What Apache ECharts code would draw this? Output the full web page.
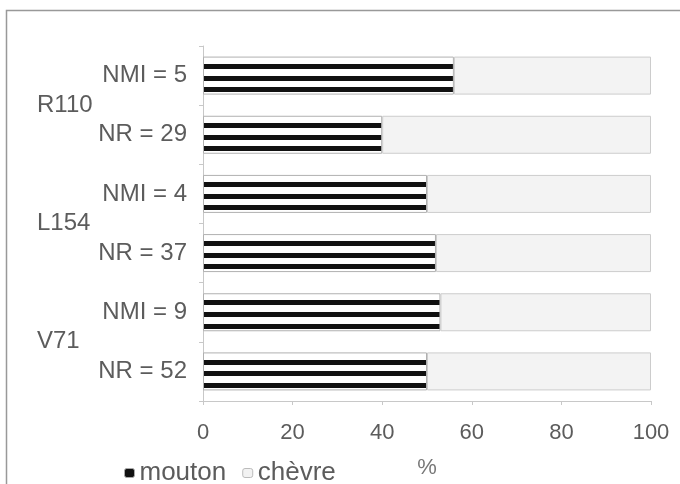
<!DOCTYPE html>
<html>
<head>
<meta charset="utf-8">
<script src="https://cdn.jsdelivr.net/npm/echarts@6/dist/echarts.min.js"></script>
<style>
html,body{margin:0;padding:0;background:#fff;}
#chart{width:680px;height:484px;}
</style>
</head>
<body>
<div id="chart"></div>
<script>
var categories = ['NMI = 5', 'NR = 29', 'NMI = 4', 'NR = 37', 'NMI = 9', 'NR = 52'];
var groups = ['R110', 'L154', 'V71'];
var mouton = [56, 40, 50, 52, 53, 50];
var chevre = [44, 60, 50, 48, 47, 50];
var xTicks = [0, 20, 40, 60, 80, 100];

var stripe = {
  type: 'linear', x: 0, y: 0, x2: 0, y2: 1,
  colorStops: [
    {offset: 0, color: '#ffffff'}, {offset: 0.19, color: '#ffffff'},
    {offset: 0.19, color: '#111111'}, {offset: 0.32, color: '#111111'},
    {offset: 0.32, color: '#ffffff'}, {offset: 0.50, color: '#ffffff'},
    {offset: 0.50, color: '#111111'}, {offset: 0.63, color: '#111111'},
    {offset: 0.63, color: '#ffffff'}, {offset: 0.80, color: '#ffffff'},
    {offset: 0.80, color: '#111111'}, {offset: 0.93, color: '#111111'},
    {offset: 0.93, color: '#ffffff'}, {offset: 1, color: '#ffffff'}
  ]
};

var chart = echarts.init(document.getElementById('chart'), null, {renderer: 'canvas'});
var font = 'Liberation Sans, Arial, sans-serif';
var txt = '#5c5c5c';
chart.setOption({
  animation: false,
  backgroundColor: '#ffffff',
  textStyle: {fontFamily: font},
  graphic: [{
    type: 'rect',
    shape: {x: 6.5, y: 10.5, width: 720, height: 520},
    style: {fill: 'none', stroke: '#999999', lineWidth: 1.5},
    silent: true
  }],
  grid: {left: 203, right: 29, top: 46, bottom: 82, containLabel: false},
  legend: {
    left: 119, top: 455,
    itemWidth: 10, itemHeight: 9, itemGap: 16,
    textStyle: {fontSize: 26, color: txt, fontFamily: font},
    data: [
      {name: 'mouton', itemStyle: {color: '#111111', borderColor: '#aaaaaa', borderWidth: 1}},
      {name: 'chèvre', itemStyle: {color: '#f2f2f2', borderColor: '#bbbbbb', borderWidth: 1}}
    ]
  },
  xAxis: {
    type: 'value', min: 0, max: 100, interval: 20,
    name: '%', nameLocation: 'middle', nameGap: 56,
    nameTextStyle: {fontSize: 22, color: '#777777', fontFamily: font},
    axisLine: {show: true, lineStyle: {color: '#c8c8c8', width: 1}},
    axisTick: {show: true, length: 4, lineStyle: {color: '#c8c8c8'}},
    splitLine: {show: false},
    axisLabel: {
      fontSize: 22, color: txt, margin: 21, fontFamily: font,
      formatter: function (v) { return xTicks.indexOf(v) >= 0 ? String(v) : ''; }
    }
  },
  yAxis: [{
    type: 'category', data: categories, inverse: true,
    axisLine: {show: true, lineStyle: {color: '#c8c8c8', width: 1}},
    axisTick: {show: true, length: 4, lineStyle: {color: '#c8c8c8'}},
    axisLabel: {fontSize: 24, color: txt, margin: 16, fontFamily: font}
  }, {
    type: 'category', data: groups, inverse: true, position: 'left',
    axisLine: {show: false}, axisTick: {show: false},
    axisLabel: {fontSize: 24, color: txt, margin: 166, align: 'left', fontFamily: font}
  }],
  series: [{
    name: 'mouton', type: 'bar', stack: 'total', yAxisIndex: 0,
    barWidth: 38,
    data: mouton,
    itemStyle: {color: stripe, borderColor: '#b0b0b0', borderWidth: 1}
  }, {
    name: 'chèvre', type: 'bar', stack: 'total', yAxisIndex: 0,
    barWidth: 38,
    data: chevre,
    itemStyle: {color: '#f3f3f3', borderColor: '#cccccc', borderWidth: 1}
  }]
});
</script>
</body>
</html>
